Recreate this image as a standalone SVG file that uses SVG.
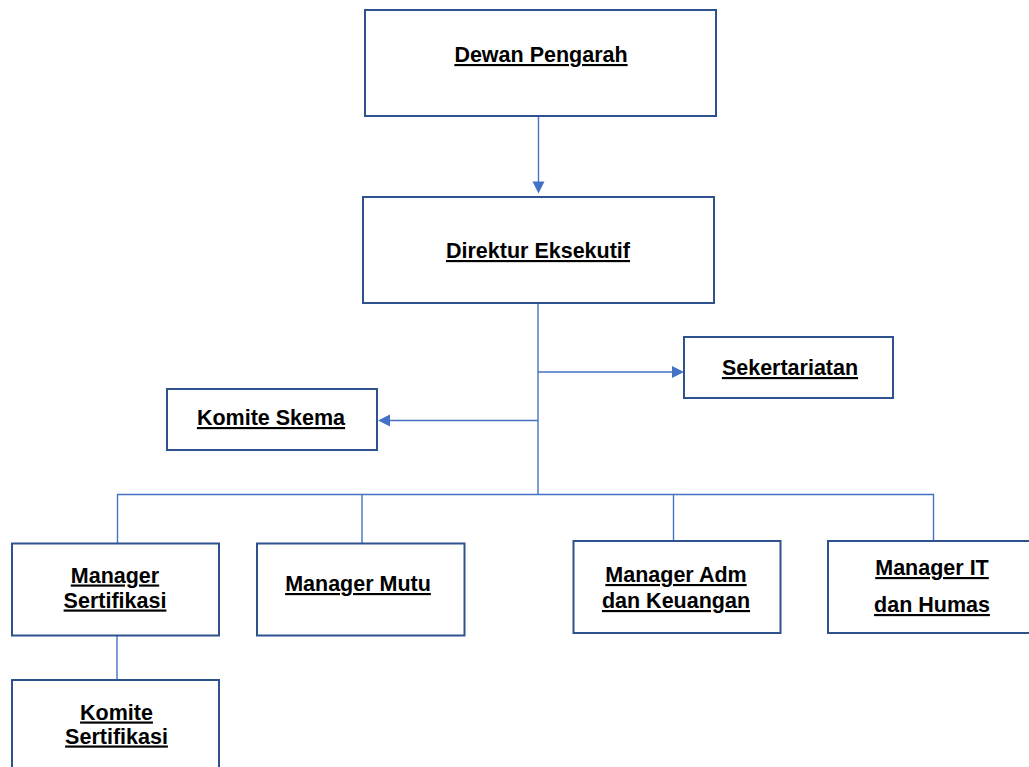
<svg xmlns="http://www.w3.org/2000/svg" width="1029" height="767" viewBox="0 0 1029 767">
<style>
.box{fill:#ffffff;stroke:#2F528F;stroke-width:2}
.lbl{font-family:"Liberation Sans",Arial,sans-serif;font-weight:bold;font-size:21.5px;fill:#000;text-anchor:middle;text-decoration:underline}
.conn{fill:none;stroke:#4472C4;stroke-width:1.4}
.head{fill:#4472C4}
</style>
<rect width="1029" height="767" fill="#ffffff"/>
<g id="connectors">
<line class="conn" x1="538.5" y1="116" x2="538.5" y2="182"/>
<path class="head" d="M532.5,181.5 L544.5,181.5 L538.5,193.5 Z"/>
<line class="conn" x1="538" y1="303" x2="538" y2="494.5"/>
<line class="conn" x1="538" y1="372" x2="673" y2="372"/>
<path class="head" d="M672,366 L672,378 L684,372 Z"/>
<line class="conn" x1="538" y1="420.5" x2="389" y2="420.5"/>
<path class="head" d="M390,414.5 L390,426.5 L378,420.5 Z"/>
<line class="conn" x1="117.5" y1="494.5" x2="934" y2="494.5"/>
<line class="conn" x1="117.5" y1="494" x2="117.5" y2="543"/>
<line class="conn" x1="362" y1="494" x2="362" y2="543"/>
<line class="conn" x1="673.5" y1="494" x2="673.5" y2="541"/>
<line class="conn" x1="933.5" y1="494" x2="933.5" y2="541"/>
<line class="conn" x1="117" y1="635" x2="117" y2="680"/>
</g>
<g id="dewan-pengarah">
<rect class="box" x="365" y="10" width="351" height="106"/>
<text class="lbl" x="541" y="62">Dewan Pengarah</text>
</g>
<g id="direktur-eksekutif">
<rect class="box" x="363" y="197" width="351" height="106"/>
<text class="lbl" x="538" y="258">Direktur Eksekutif</text>
</g>
<g id="sekertariatan">
<rect class="box" x="684" y="337" width="209" height="61"/>
<text class="lbl" x="790" y="375">Sekertariatan</text>
</g>
<g id="komite-skema">
<rect class="box" x="167" y="389" width="210" height="61"/>
<text class="lbl" x="271" y="425">Komite Skema</text>
</g>
<g id="manager-sertifikasi">
<rect class="box" x="12" y="543.5" width="207" height="92"/>
<text class="lbl" x="115" y="582.5">Manager</text>
<text class="lbl" x="115" y="607.5">Sertifikasi</text>
</g>
<g id="manager-mutu">
<rect class="box" x="257" y="543.5" width="207.5" height="92"/>
<text class="lbl" x="358" y="591">Manager Mutu</text>
</g>
<g id="manager-adm">
<rect class="box" x="573.5" y="541" width="207" height="92"/>
<text class="lbl" x="676" y="582">Manager Adm</text>
<text class="lbl" x="676" y="608">dan Keuangan</text>
</g>
<g id="manager-it">
<rect class="box" x="828" y="541" width="220" height="92"/>
<text class="lbl" x="932" y="575">Manager IT</text>
<text class="lbl" x="932" y="612">dan Humas</text>
</g>
<g id="komite-sertifikasi">
<rect class="box" x="12" y="680" width="207" height="100"/>
<text class="lbl" x="116.5" y="719.5">Komite</text>
<text class="lbl" x="116.5" y="743.5">Sertifikasi</text>
</g>
</svg>
